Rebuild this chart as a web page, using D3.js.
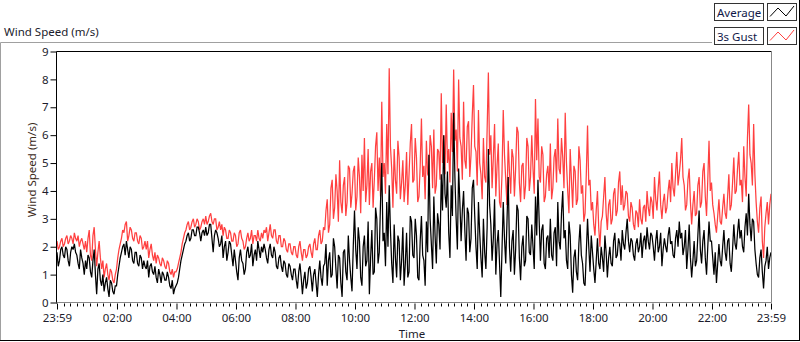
<!DOCTYPE html>
<html>
<head>
<meta charset="utf-8">
<script src="https://cdn.jsdelivr.net/npm/d3@7/dist/d3.min.js"></script>
<style>
  html, body { margin: 0; padding: 0; background: #ffffff; }
  svg { display: block; font-family: "Noto Sans", "DejaVu Sans", sans-serif; }
</style>
</head>
<body>
<svg id="chart" width="800" height="342"></svg>
<script>
// ---- data (wind speed, m/s), one sample every 2.5 minutes from 23:59 ----
const sampleStepMin = 2.5;
const gust = [
  2.2,1.9, 2.0,2.2, 2.3,2.0, 2.1,2.3, 2.4,2.1, 2.2,2.4, 2.3,2.1, 2.5,2.3, 2.2,2.4, 2.0,2.2, 2.3,2.1, 1.9,2.2,
  1.8,2.3, 2.6,1.7, 1.5,2.4, 2.7,1.9, 1.3,1.8, 2.2,1.6, 1.2,1.5, 0.9,1.2, 1.4,1.0, 0.8,1.2, 1.1,0.8, 0.7,1.0,
  1.2,1.6, 1.9,2.1, 2.3,2.6, 2.5,2.8, 2.9,2.2, 2.4,2.7, 2.6,2.3, 2.2,2.5, 2.5,2.2, 2.1,2.4, 2.3,1.9, 2.0,2.2,
  1.9,2.2, 1.6,1.9, 2.1,1.7, 1.5,1.8, 1.4,1.7, 1.6,1.4, 1.3,1.6, 1.5,1.3, 1.2,1.5, 1.4,1.1, 1.0,1.2, 0.9,1.1,
  1.1,1.2, 1.4,1.6, 1.8,2.1, 2.3,2.5, 2.6,2.8, 2.9,2.6, 2.7,2.9, 3.0,2.7, 2.8,3.0, 2.9,2.6, 2.7,2.9, 3.0,2.8,
  3.1,2.8, 2.9,3.1, 3.2,2.9, 2.8,3.0, 3.0,2.6, 2.7,2.9, 2.6,2.8, 2.4,2.7, 2.6,2.3, 2.3,2.6, 2.5,2.2, 2.2,2.5,
  2.4,2.0, 2.1,2.5, 2.6,2.3, 2.2,1.9, 2.0,2.3, 2.5,2.2, 2.3,2.6, 2.1,2.4, 2.4,2.2, 2.6,2.3, 2.2,2.5, 2.3,2.6,
  2.5,2.7, 2.2,2.5, 2.8,2.4, 2.3,2.6, 2.6,2.2, 2.1,2.4, 2.4,2.0, 2.0,2.3, 2.2,1.9, 1.8,2.1, 2.1,1.8, 1.7,2.0,
  2.0,1.7, 1.6,2.0, 2.2,1.8, 1.5,1.9, 1.9,1.6, 1.7,2.0, 2.1,1.8, 1.6,2.1, 2.3,1.9, 1.9,2.4, 2.6,2.1, 2.2,2.7,
  2.6,3.3, 3.7,2.5, 2.8,4.1, 4.4,3.0, 3.4,4.6, 4.0,2.9, 5.1,3.6, 3.2,4.2, 4.5,3.1, 3.6,4.9, 4.8,3.4, 3.9,4.7,
  4.9,3.3, 3.8,5.2, 4.5,3.2, 5.3,4.0, 5.9,3.6, 4.2,5.5, 3.5,4.7, 5.0,3.4, 4.4,5.6, 6.1,4.0, 5.2,3.8, 7.2,4.5,
  5.0,3.9, 6.4,4.6, 8.4,5.6, 4.8,3.4, 5.5,4.4, 3.9,5.8, 5.2,3.7, 4.3,5.1, 3.6,4.2, 5.4,3.5, 4.6,5.7, 6.4,4.3,
  4.4,5.9, 5.2,3.6, 3.8,4.9, 6.6,4.5, 4.9,3.7, 5.8,4.6, 4.5,6.0, 5.6,4.1, 6.2,3.9, 4.2,5.5, 5.4,4.4, 7.5,5.0,
  6.0,4.6, 7.1,5.0, 5.5,4.3, 6.8,5.4, 8.35,5.8, 6.2,4.7, 8.0,5.9, 5.6,4.4, 7.2,5.1, 4.8,6.3, 6.5,4.5, 5.3,6.7,
  7.8,5.6, 5.4,4.2, 6.9,5.0, 4.6,3.7, 5.9,4.5, 4.3,6.2, 8.25,5.3, 6.0,4.1, 5.2,6.4, 3.8,4.9, 5.7,3.6, 3.4,4.6,
  6.9,5.3, 4.4,3.5, 5.8,4.7, 3.9,5.5, 5.2,3.8, 4.8,6.3, 6.1,4.3, 3.6,4.9, 5.0,3.7, 4.2,5.9, 5.6,4.0, 4.5,6.0,
  4.8,3.9, 7.3,5.1, 6.6,4.5, 4.3,5.6, 5.3,3.6, 3.8,4.6, 4.9,4.0, 5.7,3.7, 4.1,5.2, 5.5,4.3, 6.6,4.8, 4.6,5.9,
  5.2,4.1, 6.8,5.0, 4.0,3.2, 5.5,4.4, 3.4,4.9, 4.7,3.5, 3.7,5.6, 5.1,3.9, 4.2,2.9, 3.2,4.6, 6.35,4.2, 4.4,3.3,
  3.6,2.8, 2.4,3.3, 4.0,2.7, 2.0,2.9, 3.1,3.8, 4.5,3.2, 2.6,3.5, 3.7,2.8, 3.0,3.9, 4.1,3.1, 3.3,4.3, 4.7,3.5,
  4.2,3.3, 3.5,4.0, 3.9,3.1, 2.9,3.6, 3.4,2.8, 2.6,3.3, 3.2,2.7, 3.7,3.0, 2.8,3.4, 3.5,2.9, 4.0,3.4, 3.1,3.8,
  3.6,3.0, 4.5,3.7, 3.3,4.1, 4.7,3.5, 3.0,3.6, 3.9,3.2, 3.4,4.0, 4.4,3.6, 5.0,4.1, 3.8,4.6, 5.4,4.2, 4.6,5.1,
  5.9,4.5, 4.2,3.3, 3.5,4.4, 4.8,3.6, 2.8,3.5, 4.0,3.1, 3.2,4.2, 4.5,3.4, 3.6,4.7, 5.0,3.8, 3.1,4.4, 5.8,4.0,
  4.3,3.5, 3.2,2.8, 2.5,3.1, 3.7,2.9, 2.8,3.4, 3.9,3.2, 3.0,3.8, 4.6,3.3, 3.5,4.3, 5.2,3.9, 4.0,4.8, 5.4,4.2,
  4.4,3.6, 5.6,4.5, 3.8,5.9, 7.1,5.3, 5.0,4.2, 6.4,4.6, 3.6,2.9, 2.5,3.4, 3.8,2.2, 1.6,2.7, 3.2,3.6, 2.8,3.5,
  3.9
];
const average = [
  1.8,1.3, 1.5,1.9, 2.0,1.7, 1.6,2.0, 1.9,1.5, 1.3,1.8, 2.0,1.9, 2.1,1.8, 1.7,1.4, 1.2,1.9, 1.6,1.4, 1.0,1.5,
  1.2,1.7, 1.6,1.1, 0.9,1.5, 1.9,1.0, 0.3,1.2, 1.4,0.8, 0.6,1.0, 0.4,0.7, 0.9,0.5, 0.2,0.8, 0.7,0.4, 0.3,0.6,
  0.6,1.0, 1.3,1.6, 1.8,2.0, 2.1,1.7, 2.2,1.9, 1.6,2.0, 1.9,1.5, 1.4,1.8, 1.8,1.4, 1.3,1.7, 1.6,1.2, 1.5,1.3,
  1.2,1.5, 0.9,1.3, 1.4,1.1, 1.0,1.3, 0.9,0.7, 1.2,1.0, 0.7,1.1, 1.0,0.8, 0.8,1.1, 0.9,0.6, 0.5,0.8, 0.3,0.5,
  0.6,0.7, 0.9,1.2, 1.5,1.7, 1.9,2.1, 2.2,2.4, 2.5,2.2, 2.3,2.6, 2.6,2.4, 2.4,2.7, 2.7,2.5, 2.2,2.5, 2.6,2.4,
  2.7,2.4, 2.5,2.8, 2.8,2.3, 1.8,2.4, 2.6,2.5, 2.3,2.0, 2.1,2.4, 1.6,2.0, 2.2,1.5, 1.8,2.2, 2.1,1.7, 1.3,1.9,
  1.5,1.1, 0.8,1.6, 1.9,1.5, 1.4,1.0, 1.2,1.8, 2.0,1.6, 1.7,2.1, 1.3,1.7, 1.9,1.5, 2.2,1.9, 1.6,2.0, 1.8,2.1,
  1.9,1.6, 1.4,1.9, 2.1,1.7, 1.6,2.0, 1.8,1.3, 1.2,1.6, 1.7,1.3, 1.1,1.5, 1.4,1.0, 0.9,1.4, 1.3,1.0, 0.8,1.2,
  1.2,0.8, 0.5,1.1, 1.4,0.9, 0.3,0.8, 1.1,0.5, 0.7,1.2, 1.3,0.9, 0.4,1.0, 1.2,0.7, 0.2,1.0, 1.5,0.9, 0.6,1.3,
  1.4,2.1, 0.6,1.5, 1.8,0.9, 1.0,2.3, 2.0,1.2, 0.5,1.7, 1.6,0.7, 0.2,1.8, 1.9,1.1, 0.8,2.4, 1.5,0.9, 0.4,2.0,
  3.3,1.9, 1.2,2.7, 2.2,0.9, 0.6,2.0, 2.4,1.3, 1.5,2.9, 0.3,1.6, 2.6,1.0, 1.1,3.4, 3.0,1.4, 1.8,3.6, 5.0,2.2,
  2.5,1.3, 3.6,2.0, 4.2,2.6, 1.4,0.7, 2.8,1.6, 0.9,2.4, 2.2,0.8, 1.5,2.7, 0.6,1.4, 2.5,0.9, 1.1,3.1, 2.9,1.7,
  1.6,3.0, 2.4,0.9, 0.8,2.2, 3.1,1.7, 1.5,0.6, 2.9,1.8, 5.3,3.0, 2.1,1.2, 3.8,2.4, 1.4,3.2, 2.8,1.9, 4.6,3.3,
  6.0,3.9, 3.4,4.7, 2.5,1.6, 4.2,3.1, 6.8,4.5, 3.0,1.9, 4.8,3.6, 2.2,3.3, 4.0,2.6, 1.5,3.4, 3.2,1.8, 2.3,4.1,
  4.4,3.1, 2.0,1.2, 3.6,2.5, 1.6,0.9, 3.0,1.8, 1.2,2.7, 5.5,3.5, 2.8,1.5, 2.3,3.7, 1.0,2.1, 2.6,1.4, 0.2,1.9,
  3.6,2.3, 1.4,2.9, 4.5,2.0, 1.1,2.2, 2.6,1.0, 1.9,3.5, 3.3,1.6, 0.8,2.0, 2.4,1.3, 1.5,3.1, 3.0,1.8, 1.7,2.8,
  2.0,1.2, 3.8,2.4, 4.4,2.9, 1.5,2.6, 2.8,1.4, 1.2,2.3, 2.4,1.6, 3.0,1.7, 1.5,2.5, 2.7,1.3, 3.6,2.2, 1.9,3.2,
  4.0,2.3, 2.6,1.5, 1.2,2.9, 2.4,1.0, 0.35,1.6, 1.9,1.1, 0.8,2.1, 2.8,1.7, 1.4,0.7, 0.6,1.8, 3.0,2.0, 1.1,2.4,
  1.8,1.2, 0.7,1.5, 2.3,1.4, 1.2,2.0, 1.6,1.1, 2.4,1.8, 0.9,1.6, 2.0,1.4, 1.3,2.2, 2.5,1.6, 1.7,2.3, 2.1,1.5,
  2.6,2.1, 1.9,2.5, 3.0,2.2, 1.8,2.3, 2.2,1.7, 1.5,2.1, 2.3,1.8, 2.0,2.5, 1.6,2.2, 2.4,1.9, 2.7,2.2, 1.9,2.5,
  2.4,2.0, 1.5,2.2, 2.6,1.8, 2.0,2.5, 1.3,1.9, 2.3,2.0, 1.8,2.4, 2.7,2.1, 2.2,1.7, 1.6,2.3, 2.6,2.0, 2.9,2.3,
  2.5,1.7, 2.0,2.6, 1.2,1.9, 2.8,1.6, 0.9,1.5, 2.2,1.3, 1.5,2.4, 3.3,1.9, 1.4,2.2, 2.6,1.6, 1.0,2.0, 2.9,2.2,
  2.2,1.6, 1.0,1.8, 0.7,1.4, 2.1,1.5, 1.3,2.0, 2.6,1.8, 1.5,2.2, 2.3,1.4, 1.1,1.9, 2.8,2.1, 1.9,2.5, 3.0,2.3,
  2.6,2.0, 1.8,2.7, 3.2,2.4, 3.9,2.8, 2.2,3.0, 2.9,1.9, 1.4,1.0, 0.9,1.6, 1.9,1.1, 0.5,1.3, 1.5,2.0, 1.2,1.6,
  1.8
];
// x-axis major ticks: minutes after 23:59 and their labels
const xTickMinutes = [0, 121, 241, 361, 481, 601, 721, 841, 961, 1081, 1201, 1321, 1440];
const xTickLabels = ["23:59", "02:00", "04:00", "06:00", "08:00", "10:00", "12:00",
                     "14:00", "16:00", "18:00", "20:00", "22:00", "23:59"];
const yTicks = [0, 1, 2, 3, 4, 5, 6, 7, 8, 9];
const seriesNames = ["Average", "3s Gust"];
const seriesColors = ["#000000", "#ff4040"];

// ---- layout ----
const svg = d3.select("#chart");
const L = 56.5, R = 771.5, T = 51.5, B = 302.5;
const x = d3.scaleLinear().domain([0, 1440]).range([57, 771]);
const y = d3.scaleLinear().domain([0, 9]).range([302.5, 51.5]);
const textColor = "#1c1c2c";

// outer frame
svg.append("line").attr("x1", 0.5).attr("y1", 42.5).attr("x2", 712).attr("y2", 42.5).attr("stroke", "#a0a0a0");
svg.append("line").attr("x1", 0.5).attr("y1", 42.5).attr("x2", 0.5).attr("y2", 341).attr("stroke", "#a0a0a0");
svg.append("line").attr("x1", 0).attr("y1", 340.5).attr("x2", 800).attr("y2", 340.5).attr("stroke", "#000");
svg.append("line").attr("x1", 799.5).attr("y1", 0).attr("x2", 799.5).attr("y2", 341).attr("stroke", "#000");

// title
svg.append("text").attr("x", 4).attr("y", 35.5).attr("font-size", 11.5).attr("fill", textColor)
  .text("Wind Speed (m/s)");

// plot background
svg.append("rect").attr("x", L).attr("y", T).attr("width", R - L).attr("height", B - T).attr("fill", "#fff");

// data lines
const pts = arr => arr.map((v, i) => [i * sampleStepMin, v]);
const line = d3.line().x(d => x(d[0])).y(d => y(d[1]));
svg.append("clipPath").attr("id", "clip").append("rect")
  .attr("x", L).attr("y", T).attr("width", R - L).attr("height", B - T);
const g = svg.append("g").attr("clip-path", "url(#clip)");
g.append("path").attr("d", line(pts(gust))).attr("fill", "none")
  .attr("stroke", seriesColors[1]).attr("stroke-width", 1.25).attr("stroke-linejoin", "miter").attr("stroke-miterlimit", 2);
g.append("path").attr("d", line(pts(average))).attr("fill", "none")
  .attr("stroke", seriesColors[0]).attr("stroke-width", 1.25).attr("stroke-linejoin", "miter").attr("stroke-miterlimit", 2);

// plot frame
svg.append("line").attr("x1", L).attr("y1", T).attr("x2", R).attr("y2", T).attr("stroke", "#000");
svg.append("line").attr("x1", L).attr("y1", T).attr("x2", L).attr("y2", B + 1).attr("stroke", "#000");
svg.append("line").attr("x1", R).attr("y1", T).attr("x2", R).attr("y2", B).attr("stroke", "#888");
svg.append("line").attr("x1", L).attr("y1", B).attr("x2", R).attr("y2", B).attr("stroke", "#888");

// y axis
const yAxis = d3.axisLeft(y).tickValues(yTicks).tickSize(6).tickPadding(2).tickFormat(d3.format("d"));
const ya = svg.append("g").attr("transform", `translate(${L},0)`).call(yAxis);
ya.select(".domain").remove();
ya.selectAll("text").attr("font-size", 11.5).attr("fill", textColor).attr("font-family", "Noto Sans");
ya.selectAll("line").attr("stroke", "#000");

// x axis major
const xAxis = d3.axisBottom(x).tickValues(xTickMinutes).tickSize(6).tickPadding(4)
  .tickFormat((d, i) => xTickLabels[i]);
const xa = svg.append("g").attr("transform", `translate(0,${B + 1})`).call(xAxis);
xa.select(".domain").remove();
xa.selectAll("text").attr("font-size", 11.5).attr("fill", textColor).attr("font-family", "Noto Sans");
xa.selectAll("line").attr("stroke", "#000");
// x axis minor ticks (8 between majors)
const minor = [];
for (let i = 0; i < xTickMinutes.length - 1; i++) {
  for (let k = 1; k <= 8; k++) {
    const m = xTickMinutes[i] + k * 120 / 9;
    if (m < xTickMinutes[i + 1] - 2) minor.push(m);
  }
}
svg.append("g").selectAll("line").data(minor).join("line")
  .attr("x1", d => Math.round(x(d)) + 0.5).attr("x2", d => Math.round(x(d)) + 0.5)
  .attr("y1", B + 1).attr("y2", B + 4).attr("stroke", "#000");

// axis titles
svg.append("text").attr("x", 412).attr("y", 337.5).attr("text-anchor", "middle")
  .attr("font-size", 11.5).attr("fill", textColor).text("Time");
svg.append("text").attr("transform", "translate(36,170) rotate(-90)").attr("text-anchor", "middle")
  .attr("font-size", 11.5).attr("fill", "#3a2a1a").text("Wind Speed (m/s)");

// legend
const lg = svg.append("g");
seriesNames.forEach((name, i) => {
  const y0 = 3.5 + i * 24;
  lg.append("rect").attr("x", 714.5).attr("y", y0).attr("width", 49).attr("height", 17)
    .attr("fill", "#fff").attr("stroke", "#333");
  lg.append("text").attr("x", 717).attr("y", y0 + 13).attr("font-size", 11.5).attr("fill", "#101848").text(name);
  lg.append("rect").attr("x", 767.5).attr("y", y0).attr("width", 29).attr("height", 17)
    .attr("fill", "#fff").attr("stroke", "#333");
  const sw = [[770, y0 + 13], [778, y0 + 4.5], [786, y0 + 12.5], [794, y0 + 2.5]];
  lg.append("path").attr("d", d3.line()(sw)).attr("fill", "none").attr("stroke", seriesColors[i]);
});
</script>
</body>
</html>
